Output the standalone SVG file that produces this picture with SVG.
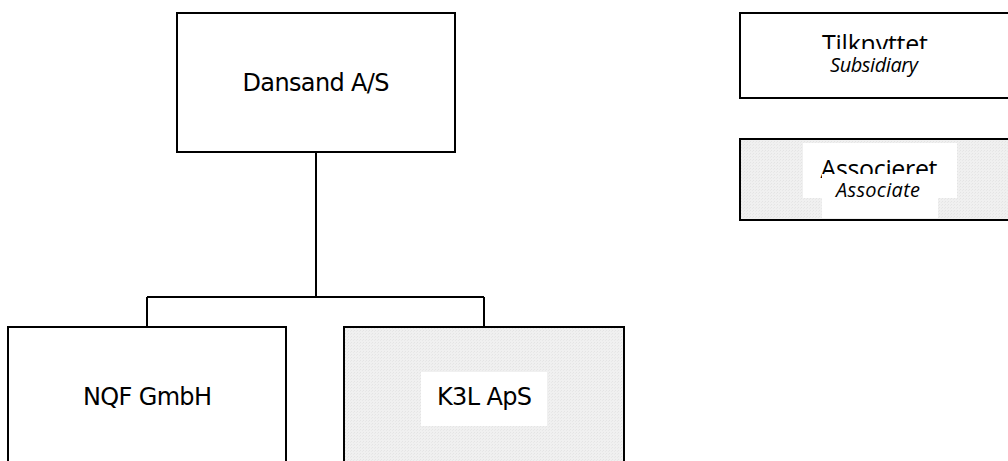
<svg xmlns="http://www.w3.org/2000/svg" width="1008" height="461" viewBox="0 0 1008 461">
<defs>
<pattern id="hatch" width="3" height="3" patternUnits="userSpaceOnUse">
<rect width="3" height="3" fill="#f0f0f0"/>
<rect x="0" y="0" width="1" height="1" fill="#e4e4e4"/>
<rect x="2" y="1" width="1" height="1" fill="#e8e8e8"/>
</pattern>
<style>
.box{fill:#fff;stroke:#000;stroke-width:2}
.assoc{fill:url(#hatch);stroke:#000;stroke-width:2}
.main{font-family:"DejaVu Sans",Verdana,sans-serif;font-size:24px;fill:#000;text-anchor:middle}
.leg{font-family:"Open Sans","DejaVu Sans",sans-serif;font-size:25px;fill:#000;text-anchor:middle}
.legi{font-family:"Open Sans","DejaVu Sans",sans-serif;font-size:20px;font-style:italic;fill:#000;text-anchor:middle}
.wb{fill:#fff;stroke:none}
.conn{fill:none;stroke:#000;stroke-width:2}
</style>
</defs>
<rect width="1008" height="461" fill="#fff"/>
<g id="connectors">
<path class="conn" d="M316,152 V297 M147,297 H484 M147,297 V327 M484,297 V327"/>
</g>
<g id="dansand">
<rect class="box" x="177" y="13" width="278" height="139"/>
<text class="main" x="316" y="91" textLength="147">Dansand A/S</text>
</g>
<g id="nqf">
<rect class="box" x="8" y="327" width="278" height="200"/>
<text class="main" x="147.5" y="404.5" textLength="129">NQF GmbH</text>
</g>
<g id="k3l">
<rect class="assoc" x="344" y="327" width="280" height="200"/>
<rect class="wb" x="421" y="372" width="126" height="54"/>
<text class="main" x="484.5" y="405" textLength="95">K3L ApS</text>
</g>
<g id="legend-subsidiary">
<rect class="box" x="740" y="13" width="300" height="85"/>
<text class="leg" x="875" y="53" textLength="106">Tilknyttet</text>
<rect class="wb" x="790" y="49" width="150" height="28"/>
<text class="legi" x="874" y="72" textLength="88">Subsidiary</text>
</g>
<g id="legend-associate">
<rect class="assoc" x="740" y="139" width="300" height="81"/>
<rect class="wb" x="803" y="143" width="154" height="55"/>
<text class="leg" x="879" y="178" textLength="117">Associeret</text>
<rect class="wb" x="822" y="174" width="116" height="44"/>
<text class="legi" x="878" y="197" textLength="84">Associate</text>
</g>
</svg>
